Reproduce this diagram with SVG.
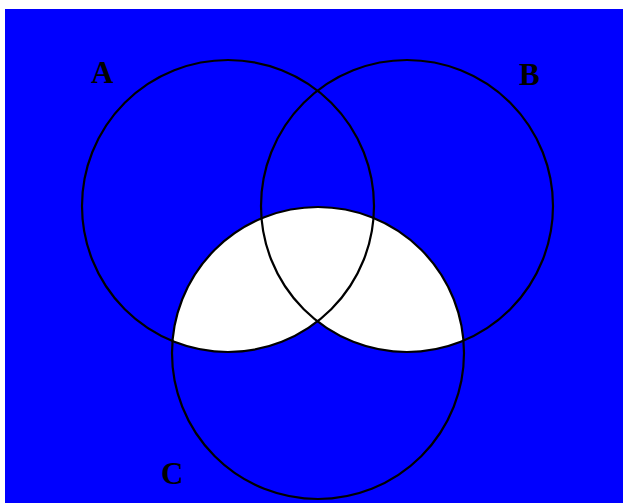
<svg xmlns="http://www.w3.org/2000/svg" width="623" height="503" viewBox="0 0 623 503">
<style>
.ring{fill:none;stroke:#000;stroke-width:2.2}
.lbl{font-family:"Liberation Serif",serif;font-weight:bold;font-size:31px;fill:#000}
</style>
<defs>
<clipPath id="ab">
<circle cx="228" cy="206" r="146"/>
<circle cx="407" cy="206" r="146"/>
</clipPath>
</defs>
<rect x="0" y="0" width="623" height="503" fill="#fff"/>
<rect x="5" y="9" width="618" height="494" fill="#0000ff"/>
<circle cx="318" cy="353" r="146" fill="#fff" clip-path="url(#ab)"/>
<g id="A"><circle class="ring" cx="228" cy="206" r="146"/><text class="lbl" x="91" y="83">A</text></g>
<g id="B"><circle class="ring" cx="407" cy="206" r="146"/><text class="lbl" x="519" y="85">B</text></g>
<g id="C"><circle class="ring" cx="318" cy="353" r="146"/><text class="lbl" x="161" y="484">C</text></g>
</svg>
